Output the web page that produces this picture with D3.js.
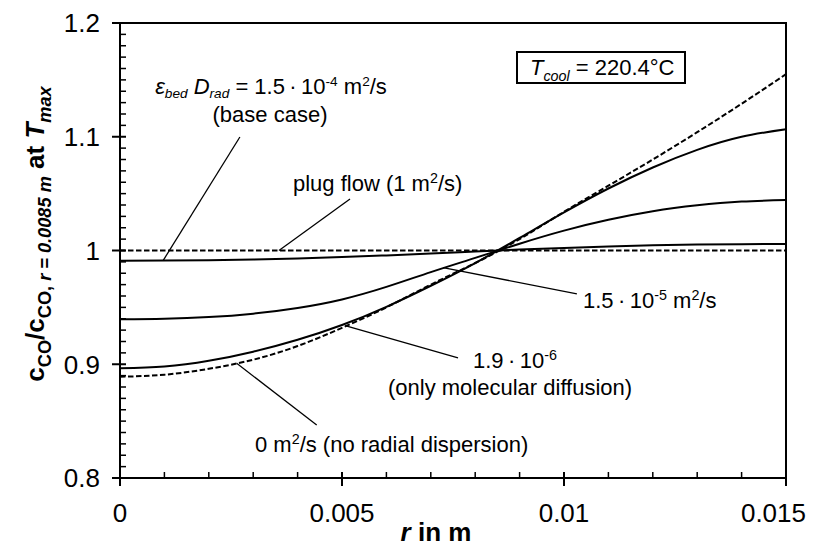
<!DOCTYPE html>
<html><head><meta charset="utf-8">
<script src="https://cdn.jsdelivr.net/npm/d3@7"></script>
<style>
html,body{margin:0;padding:0;background:#fff;}
text{font-family:"Liberation Sans",Arial,sans-serif;fill:#000;}
</style></head>
<body><svg id="c" width="819" height="546"></svg>
<script>
// ---- data ----
const rValues = [0,0.001,0.002,0.003,0.004,0.005,0.006,0.007,0.008,0.009,0.010,0.011,0.012,0.013,0.014,0.015];
const plugFlow = [1,1,1,1,1,1,1,1,1,1,1,1,1,1,1,1];
const baseCase = [0.9910,0.9911,0.9914,0.9920,0.9930,0.9942,0.9957,0.9973,0.9991,1.0008,1.0023,1.0036,1.0046,1.0052,1.0056,1.0057];
const disp15e5 = [0.9395,0.9400,0.9415,0.9445,0.9495,0.9570,0.9680,0.9810,0.9935,1.0060,1.0175,1.0270,1.0345,1.0397,1.0430,1.0444];
const disp19e6 = [0.8964,0.8980,0.9030,0.9110,0.9215,0.9345,0.9505,0.9690,0.9890,1.0110,1.0335,1.0545,1.0730,1.0885,1.1000,1.1066];
const noDisp   = [0.8890,0.8908,0.8960,0.9040,0.9160,0.9320,0.9500,0.9700,0.9890,1.0100,1.0340,1.0570,1.0800,1.1040,1.1290,1.1550];
const xTicks = [0,0.005,0.01,0.015];
const xTickLabels = ["0","0.005","0.01","0.015"];
const yTicks = [0.8,0.9,1,1.1,1.2];
const yTickLabels = ["0.8","0.9","1","1.1","1.2"];

const series = [
  {values: plugFlow, dashed: true},
  {values: baseCase, dashed: false},
  {values: disp15e5, dashed: false},
  {values: disp19e6, dashed: false},
  {values: noDisp, dashed: true}
];

// ---- layout ----
const W = 819, H = 546;
const m = {left:120, right:33, top:23, bottom:68};
const svg = d3.select("#c");
const x = d3.scaleLinear().domain([0,0.015]).range([m.left, W-m.right]);
const y = d3.scaleLinear().domain([0.8,1.2]).range([H-m.bottom, m.top]);

const xMinor = d3.range(0,16).map(i=>i*0.001).filter(v=>Math.round(v*1e6)%5000!==0);
const yMinor = d3.range(0,41).map(i=>0.8+i*0.01).filter(v=>Math.round(v*100)%10!==0);

const g = svg.append("g");
g.append("rect").attr("x",x(0)).attr("y",y(1.2)).attr("width",x(0.015)-x(0)).attr("height",y(0.8)-y(1.2))
  .attr("fill","none").attr("stroke","#000").attr("stroke-width",2);

// x axis ticks
g.selectAll(".xm").data(xMinor).join("line").attr("x1",d=>x(d)).attr("x2",d=>x(d))
  .attr("y1",y(0.8)).attr("y2",y(0.8)-6).attr("stroke","#000").attr("stroke-width",1.5);
g.selectAll(".xM").data(xTicks).join("line").attr("x1",d=>x(d)).attr("x2",d=>x(d))
  .attr("y1",y(0.8)-6).attr("y2",y(0.8)+8).attr("stroke","#000").attr("stroke-width",2);
g.selectAll(".xl").data(xTicks).join("text")
  .attr("x",(d,i)=>i===xTicks.length-1 ? W-13 : x(d)).attr("y",522)
  .attr("text-anchor",(d,i)=>i===xTicks.length-1 ? "end" : "middle")
  .attr("font-size",26).text((d,i)=>xTickLabels[i]);

// y axis ticks
g.selectAll(".ym").data(yMinor).join("line").attr("y1",d=>y(d)).attr("y2",d=>y(d))
  .attr("x1",x(0)).attr("x2",x(0)+6).attr("stroke","#000").attr("stroke-width",1.5);
g.selectAll(".yM").data(yTicks).join("line").attr("y1",d=>y(d)).attr("y2",d=>y(d))
  .attr("x1",x(0)-8).attr("x2",x(0)+6).attr("stroke","#000").attr("stroke-width",2);
g.selectAll(".yl").data(yTicks).join("text").attr("x",100).attr("y",d=>y(d)).attr("dy","0.36em")
  .attr("text-anchor","end").attr("font-size",26).text((d,i)=>yTickLabels[i]);

// curves
const line = d3.line().x((d,i)=>x(rValues[i])).y(d=>y(d)).curve(d3.curveNatural);
series.forEach(s=>{
  g.append("path").attr("d",line(s.values)).attr("fill","none").attr("stroke","#000")
    .attr("stroke-width",2).attr("stroke-dasharray",s.dashed?"5.5,2.5":null);
});

function rich(parent, px, py, segs, size, anchor, weight, subScale, subShift){
  const sc = subScale || 0.65;
  const sh = subShift || 0.28;
  const t = parent.append("text").attr("x",px).attr("y",py).attr("font-size",size)
    .attr("text-anchor",anchor||"start").attr("font-weight",weight||"normal");
  let cur = 0;
  segs.forEach(s=>{
    const off = s.sub ? size*sh : s.sup ? -size*0.38 : 0;
    const ts = t.append("tspan").attr("dy",off-cur).text(s.t);
    cur = off;
    if (s.sub||s.sup) ts.attr("font-size",size*sc);
    if (s.i) ts.attr("font-style","italic");
  });
  return t;
}

// axis titles
rich(svg.append("g").attr("transform","translate(44,234) rotate(-90)"),0,0,[
  {t:"c"},{t:"CO",sub:1},{t:"/c"},{t:"CO, ",sub:1},{t:"r",sub:1,i:1},{t:" = 0.0085 m",sub:1,i:1},
  {t:" at "},{t:"T",i:1},{t:"max",sub:1,i:1}],26,"middle","bold",0.7);
rich(svg,436,541,[{t:"r",i:1},{t:" in m"}],26,"middle","bold");

// annotations
const ann = svg.append("g");
rich(ann,271,94,[{t:"ε",i:1},{t:"bed",sub:1,i:1},{t:" D",i:1},{t:"rad",sub:1,i:1},
  {t:" = 1.5\u2009·\u200910"},{t:"-4",sup:1},{t:" m"},{t:"2",sup:1},{t:"/s"}],22,"middle",null,0.62,0.2);
rich(ann,270,122,[{t:"(base case)"}],22,"middle");
rich(ann,293,191,[{t:"plug flow (1 m"},{t:"2",sup:1},{t:"/s)"}],22,"start");
rich(ann,583,308,[{t:"1.5\u2009·\u200910"},{t:"-5",sup:1},{t:" m"},{t:"2",sup:1},{t:"/s"}],22,"start");
rich(ann,473,368,[{t:"1.9\u2009·\u200910"},{t:"-6",sup:1}],22,"start");
rich(ann,388,395,[{t:"(only molecular diffusion)"}],22,"start");
rich(ann,255,452,[{t:"0 m"},{t:"2",sup:1},{t:"/s (no radial dispersion)"}],22,"start");

ann.append("rect").attr("x",517).attr("y",52).attr("width",168).attr("height",31)
  .attr("fill","#fff").attr("stroke","#000").attr("stroke-width",2);
rich(ann,530,75,[{t:"T",i:1},{t:"cool",sub:1,i:1},{t:" = 220.4°C"}],22,"start");

// leader lines (data coordinates)
const leaders = [
  [[0.00270,1.0998],[0.00097,0.9911]],
  [[0.00518,1.0453],[0.00358,1.0]],
  [[0.007275,0.9850],[0.01029,0.9618]],
  [[0.00507,0.9340],[0.007613,0.9055]],
  [[0.002628,0.9008],[0.00443,0.8466]]
];
ann.selectAll(".ld").data(leaders).join("line")
  .attr("x1",d=>x(d[0][0])).attr("y1",d=>y(d[0][1]))
  .attr("x2",d=>x(d[1][0])).attr("y2",d=>y(d[1][1]))
  .attr("stroke","#000").attr("stroke-width",1.3);
</script></body></html>
